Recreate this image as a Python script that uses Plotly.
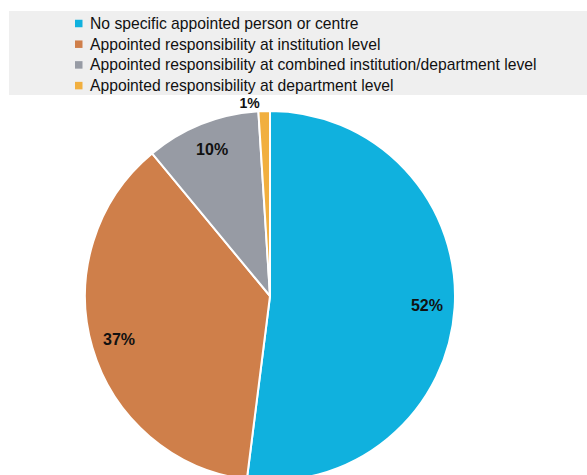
import plotly.graph_objects as go

# Share of respondents by who holds responsibility
categories = [
    "No specific appointed person or centre",
    "Appointed responsibility at institution level",
    "Appointed responsibility at combined institution/department level",
    "Appointed responsibility at department level",
]
shares = [52, 37, 10, 1]
colors = ["#10B1DE", "#CF7F4A", "#979BA4", "#F1AF3F"]
value_labels = [f"{v}%" for v in shares]

W, H = 587, 490
FONT = "Liberation Sans, Arial, sans-serif"

def py(px):
    return 1 - px / H

def px_(x):
    return x / W

pie_domain = dict(x=[px_(85), px_(455)], y=[py(481), py(111)])

fig = go.Figure()

# Main pie
fig.add_trace(go.Pie(
    labels=categories,
    values=shares,
    sort=False,
    direction="clockwise",
    rotation=0,
    marker=dict(colors=colors, line=dict(color="white", width=2)),
    textinfo="none",
    hoverinfo="label+percent",
    showlegend=False,
    domain=pie_domain,
))

# Transparent ring carrying the value labels near the outer edge
fig.add_trace(go.Pie(
    labels=categories,
    values=shares,
    sort=False,
    direction="clockwise",
    rotation=0,
    hole=0.7,
    marker=dict(colors=["rgba(0,0,0,0)"] * len(shares), line=dict(width=0)),
    text=value_labels,
    textinfo="text",
    textposition=["inside", "inside", "inside", "outside"],
    insidetextorientation="horizontal",
    textfont=dict(family=FONT, size=[16, 16, 16, 14], color="#111111", weight="bold"),
    hoverinfo="skip",
    showlegend=False,
    domain=pie_domain,
))

# Legend panel
shapes = [dict(
    type="rect", xref="paper", yref="paper", layer="above",
    x0=px_(9), x1=1, y0=py(95), y1=py(11),
    fillcolor="#EFEFEF", line=dict(width=0),
)]
annotations = []
row0, step = 23.5, 20.7
for i, (name, col) in enumerate(zip(categories, colors)):
    yc = row0 + i * step
    shapes.append(dict(
        type="rect", xref="paper", yref="paper", layer="above",
        x0=px_(75), x1=px_(82.5), y0=py(yc + 3.75), y1=py(yc - 3.75),
        fillcolor=col, line=dict(width=0),
    ))
    annotations.append(dict(
        text=name, xref="paper", yref="paper",
        x=px_(88), y=py(yc), xanchor="left", yanchor="middle",
        showarrow=False, font=dict(family=FONT, size=15.7, color="#111111"),
    ))

fig.update_layout(
    width=W, height=H,
    margin=dict(l=0, r=0, t=0, b=0),
    paper_bgcolor="white",
    plot_bgcolor="white",
    shapes=shapes,
    annotations=annotations,
)

fig.write_html(
    "out.html",
    config={"displayModeBar": False},
    post_script="document.body.style.overflow='hidden';document.documentElement.style.overflow='hidden';",
)
